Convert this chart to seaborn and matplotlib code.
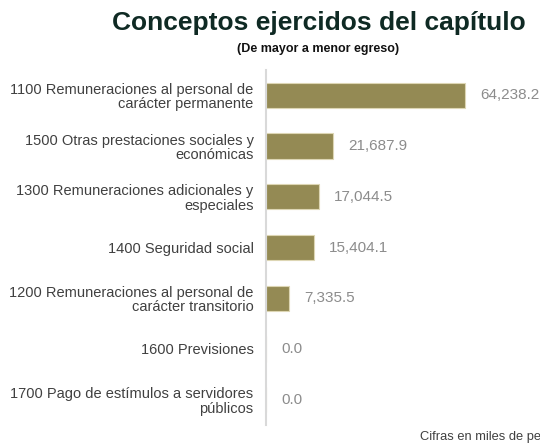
import matplotlib
matplotlib.use('Agg')
import matplotlib.pyplot as plt
import seaborn as sns
import pandas as pd

# datos del capitulo (miles de pesos)
conceptos = ['1100 Remuneraciones al personal de\ncarácter permanente',
             '1500 Otras prestaciones sociales y\neconómicas',
             '1300 Remuneraciones adicionales y\nespeciales',
             '1400 Seguridad social',
             '1200 Remuneraciones al personal de\ncarácter transitorio',
             '1600 Previsiones',
             '1700 Pago de estímulos a servidores\npúblicos']
montos = [64238.2, 21687.9, 17044.5, 15404.1, 7335.5, 0.0, 0.0]

df = pd.DataFrame({'concepto': conceptos, 'monto': montos})

sns.set_style('white')
plt.rcParams['font.family'] = ['Liberation Sans', 'DejaVu Sans']

fig = plt.figure(figsize=(5.4, 4.44), dpi=100)
ax = fig.add_axes([0.4926, 0.0428, 0.5074, 0.7995])

sns.barplot(data=df, x='monto', y='concepto', orient='h', color='#948A54',
            saturation=1, width=0.5, edgecolor='#ddd6b4', linewidth=0.8, ax=ax)

ax.bar_label(ax.containers[0], labels=[f'{v:,.1f}' for v in montos],
             padding=11, color='#8c8c8c', fontsize=11)

ax.set_xlim(0, 88447)
ax.set_ylim(6.5, -0.5)
ax.set_xlabel('')
ax.set_ylabel('')
ax.set_xticks([])
for s in ['top', 'right', 'bottom']:
    ax.spines[s].set_visible(False)
ax.spines['left'].set_color('#d9d9d9')
ax.spines['left'].set_linewidth(1.5)
ax.tick_params(axis='y', length=0, pad=9, labelsize=10.5, labelcolor='#404040')
for lab in ax.get_yticklabels():
    lab.set_multialignment('right')
    lab.set_linespacing(1.05)

fig.text(0.59, 0.948, 'Conceptos ejercidos del capítulo', ha='center', va='center',
         fontsize=19, fontweight='bold', color='#0f2a24')
fig.text(0.589, 0.89, '(De mayor a menor egreso)', ha='center', va='center',
         fontsize=9, fontweight='bold', color='#111111')
fig.text(0.778, 0.015, 'Cifras en miles de pesos', ha='left', va='center',
         fontsize=9.3, color='#404040')

fig.savefig('out.png', dpi=100)
